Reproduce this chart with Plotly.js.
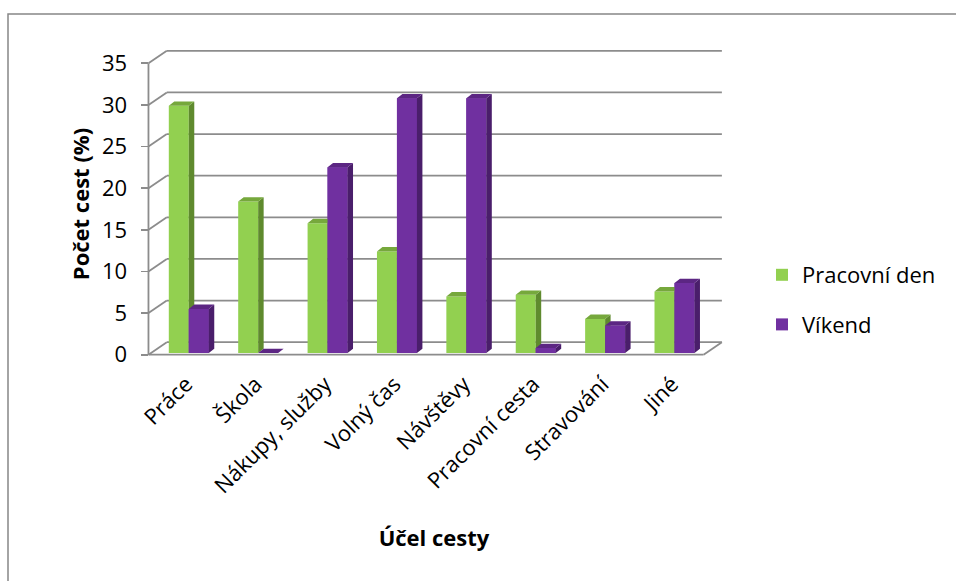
<!DOCTYPE html>
<html>
<head>
<meta charset="utf-8">
<script src="https://cdn.plot.ly/plotly-3.0.1.min.js"></script>
<style>
  html, body { margin: 0; padding: 0; background: #ffffff; }
  #chart { width: 956px; height: 581px; }
</style>
</head>
<body>
<div id="chart"></div>
<script>
// Účel cesty – podíl cest (%) v pracovní den a o víkendu
const categories = ['Práce', 'Škola', 'Nákupy, služby', 'Volný čas', 'Návštěvy', 'Pracovní cesta', 'Stravování', 'Jiné'];
const pracovniDen = [29.7, 18.2, 15.6, 12.2, 6.8, 7.0, 4.1, 7.4];
const vikend = [5.3, 0, 22.3, 30.6, 30.6, 0.6, 3.3, 8.4];
const yTicks = [0, 5, 10, 15, 20, 25, 30, 35];
const seriesNames = ['Pracovní den', 'Víkend'];

// --- presentation settings ---
const W = 956, H = 581;
const M = { l: 145, r: 233, t: 50, b: 223 };
const X_RANGE = [-0.55, 7.78];
const Y_RANGE = [-0.4, 36.6];
const WALL_DX = 0.264, WALL_DY = 1.5;     // depth of the pseudo-3D back wall
const BAR_W = 0.288;                        // width of one column face
const BAR_OFFSETS = [-0.207, 0.081];        // left edge of each series' face
const BAR_BASE = 0.2;                       // columns stand slightly behind the front edge
const BAR_DX = 0.079, BAR_DY = 0.52;        // column depth
const GRID = '#8c8c8c';
const COLORS = {
  front: ['#92d050', '#7030a0'],
  side:  ['#5f8a2e', '#4a1e6b'],
  top:   ['#76a83c', '#5c2683']
};
const FONT = '"Open Sans", Lato, "Liberation Sans", sans-serif';
const FS = 22;

const plotW = W - M.l - M.r, plotH = H - M.t - M.b;
const pxX = px => (px - M.l) / plotW;
const pxY = py => (H - M.b - py) / plotH;

const seriesValues = [pracovniDen, vikend];
const idx = categories.map((_, i) => i);

// Front faces as bars (also give the legend its square swatches)
const traces = seriesValues.map((vals, s) => ({
  type: 'bar',
  name: seriesNames[s],
  x: idx,
  y: vals,
  base: BAR_BASE,
  width: BAR_W,
  offset: BAR_OFFSETS[s],
  marker: { color: COLORS.front[s], line: { width: 0 } },
  legendgroup: 'g' + s,
  hovertemplate: '%{customdata}: %{y}<extra>' + seriesNames[s] + '</extra>',
  customdata: categories
}));

// Polygon builders for the column faces, built from each value
function facePolys(vals, s, kind) {
  const xs = [], ys = [];
  vals.forEach((v, i) => {
    const x0 = i + BAR_OFFSETS[s], x1 = x0 + BAR_W;
    const b = BAR_BASE, t = BAR_BASE + v;
    let px, py;
    if (kind === 'front') { px = [x0, x1, x1, x0]; py = [b, b, t, t]; }
    if (kind === 'side')  { px = [x1, x1 + BAR_DX, x1 + BAR_DX, x1]; py = [b, b + BAR_DY, t + BAR_DY, t]; }
    if (kind === 'top')   { px = [x0, x1, x1 + BAR_DX, x0 + BAR_DX]; py = [t, t, t + BAR_DY, t + BAR_DY]; }
    xs.push(...px, px[0], null);
    ys.push(...py, py[0], null);
  });
  return {
    type: 'scatter', mode: 'lines', x: xs, y: ys,
    fill: 'toself', fillcolor: COLORS[kind][s],
    line: { width: 0, color: COLORS[kind][s] },
    hoverinfo: 'skip', showlegend: false
  };
}

// Draw order: green side/top, then the purple column in front of them
traces.push(facePolys(pracovniDen, 0, 'side'));
traces.push(facePolys(pracovniDen, 0, 'top'));
traces.push(facePolys(vikend, 1, 'front'));
traces.push(facePolys(vikend, 1, 'side'));
traces.push(facePolys(vikend, 1, 'top'));

// Walls: back-wall gridlines, side-wall diagonals, front edges
const shapes = [];
const lineStyle = { color: GRID, width: 1.8 };
const xL = -0.5, xR = categories.length - 0.5;
yTicks.forEach(v => {
  shapes.push({ type: 'line', layer: 'below', xref: 'x', yref: 'y',
    x0: xL + WALL_DX, x1: xR + WALL_DX, y0: v + WALL_DY, y1: v + WALL_DY, line: lineStyle });
  shapes.push({ type: 'line', layer: 'below', xref: 'x', yref: 'y',
    x0: xL, x1: xL + WALL_DX, y0: v, y1: v + WALL_DY, line: lineStyle });
});
shapes.push({ type: 'line', layer: 'below', xref: 'x', yref: 'y',
  x0: xL, x1: xL, y0: 0, y1: yTicks[yTicks.length - 1], line: lineStyle });
shapes.push({ type: 'line', layer: 'below', xref: 'x', yref: 'y',
  x0: xL, x1: xR, y0: 0, y1: 0, line: lineStyle });
shapes.push({ type: 'line', layer: 'below', xref: 'x', yref: 'y',
  x0: xR, x1: xR + WALL_DX, y0: 0, y1: WALL_DY, line: lineStyle });

// Chart frame
shapes.push({ type: 'rect', xref: 'paper', yref: 'paper',
  x0: pxX(8), x1: pxX(W + 20), y0: pxY(14), y1: pxY(H + 20),
  line: { color: '#878787', width: 1.5 }, fillcolor: 'rgba(0,0,0,0)' });

const layout = {
  width: W, height: H,
  margin: M,
  paper_bgcolor: '#ffffff', plot_bgcolor: 'rgba(0,0,0,0)',
  font: { family: FONT, size: FS, color: '#000000' },
  barmode: 'overlay',
  showlegend: true,
  legend: {
    x: pxX(762), y: pxY(254), xanchor: 'left', yanchor: 'top',
    font: { family: FONT, size: FS, color: '#000000' },
    tracegroupgap: 18, bgcolor: 'rgba(0,0,0,0)'
  },
  xaxis: {
    range: X_RANGE, tickvals: idx, ticktext: categories, tickangle: -45,
    showgrid: false, zeroline: false, showline: false, ticks: '',
    ticklabelstandoff: 8, ticklabelshift: 3,
    tickfont: { family: FONT, size: FS },
    title: { text: 'Účel cesty', font: { family: FONT, size: FS, weight: 'bold' }, standoff: 32 },
    fixedrange: true
  },
  yaxis: {
    range: Y_RANGE, tickvals: yTicks,
    anchor: 'free', position: (xL - X_RANGE[0]) / (X_RANGE[1] - X_RANGE[0]),
    showgrid: false, zeroline: false, showline: false,
    ticks: 'outside', ticklen: 7, tickwidth: 1.8, tickcolor: GRID,
    ticklabelstandoff: 10,
    tickfont: { family: FONT, size: FS },
    title: { text: 'Počet cest (%)', font: { family: FONT, size: FS, weight: 'bold' }, standoff: 5 },
    fixedrange: true
  },
  shapes: shapes
};

Plotly.newPlot('chart', traces, layout, { displayModeBar: false, staticPlot: true });
</script>
</body>
</html>
